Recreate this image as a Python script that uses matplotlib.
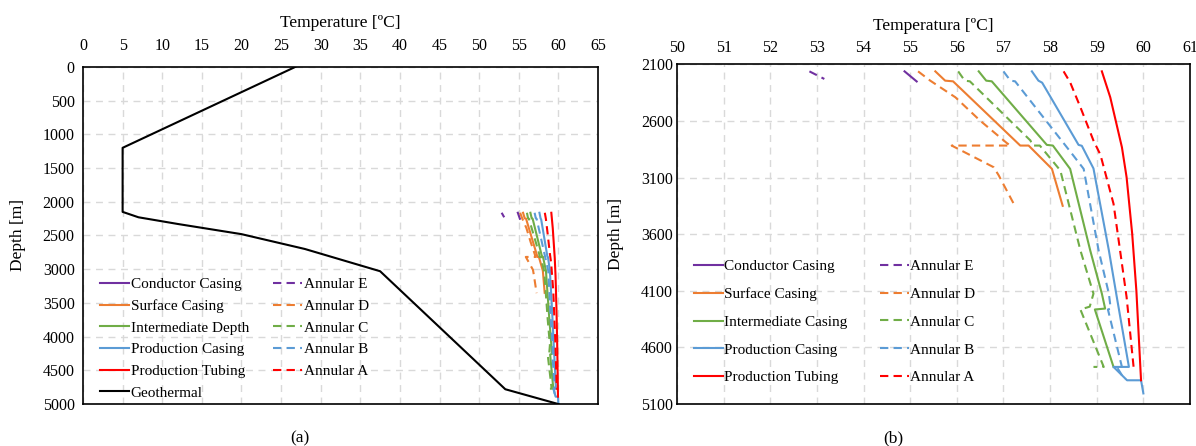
import matplotlib.pyplot as plt

plt.rcParams['font.family'] = ['Liberation Serif', 'DejaVu Serif']

# temperature [C] / depth [m]
cond_t = [54.88, 55.14]
cond_d = [2163, 2252]
ann_e_t = [52.84, 53.16]
ann_e_d = [2163, 2230]

surf_t = [55.54, 55.75, 55.92, 57.36, 57.54, 58.04, 58.27]
surf_d = [2163, 2245, 2251, 2818, 2818, 3024, 3350]
ann_d_t = [55.17, 55.43, 55.97, 56.50, 57.07, 57.15, 55.89, 56.79, 56.90, 57.25]
ann_d_d = [2163, 2245, 2392, 2598, 2795, 2818, 2818, 3009, 3082, 3355]

inter_t = [56.47, 56.63, 56.75, 57.93, 58.06, 58.43, 58.86, 59.11, 59.18, 58.96, 59.36]
inter_d = [2163, 2245, 2251, 2812, 2818, 3024, 3743, 4125, 4257, 4265, 4772]
ann_c_t = [56.03, 56.17, 56.28, 57.58, 57.62, 57.78, 58.22, 58.65, 58.93, 58.85, 58.65, 59.15, 58.93]
ann_c_d = [2163, 2245, 2251, 2774, 2818, 2818, 3038, 3743, 4125, 4240, 4265, 4772, 4772]

prod_t = [57.61, 57.75, 57.83, 57.93, 58.61, 58.68, 58.93, 59.26, 59.43, 59.69, 59.36, 59.65, 59.95, 60.0]
prod_d = [2163, 2245, 2263, 2333, 2812, 2820, 3020, 3743, 4155, 4772, 4772, 4890, 4890, 5006]
ann_b_t = [57.00, 57.15, 57.25, 58.47, 58.72, 59.04, 59.26, 59.30, 59.24, 59.54, 59.43, 59.60]
ann_b_d = [2163, 2245, 2251, 2891, 3024, 3743, 4125, 4257, 4265, 4772, 4772, 4885]

tub_t = [59.11, 59.29, 59.54, 59.64, 59.76, 59.85, 59.95]
tub_d = [2163, 2392, 2833, 3097, 3596, 4100, 4890]
ann_a_t = [58.29, 58.43, 58.65, 58.93, 59.08, 59.36, 59.50, 59.64, 59.79, 59.69]
ann_a_d = [2163, 2260, 2480, 2774, 2900, 3332, 3743, 4155, 4772, 4772]

geo_t = [26.8, 5, 5, 7, 12, 20, 28, 37.5, 53.3, 60]
geo_d = [0, 1200, 2150, 2230, 2330, 2480, 2700, 3030, 4780, 5000]

purple = '#7030A0'
orange = '#ED7D31'
green = '#70AD47'
blue = '#5B9BD5'
red = '#FF0000'
dash = (0, (4, 2.5))

fig = plt.figure(figsize=(11.96, 4.46), dpi=100)
ax1 = fig.add_axes([0.0694, 0.094, 0.4306, 0.756])
ax2 = fig.add_axes([0.566, 0.094, 0.429, 0.762])


def draw(ax, mid_label, geo):
    ax.plot(cond_t, cond_d, color=purple, lw=1.5, label='Conductor Casing')
    ax.plot(surf_t, surf_d, color=orange, lw=1.5, label='Surface Casing')
    ax.plot(inter_t, inter_d, color=green, lw=1.5, label=mid_label)
    ax.plot(prod_t, prod_d, color=blue, lw=1.5, label='Production Casing')
    ax.plot(tub_t, tub_d, color=red, lw=1.5, label='Production Tubing')
    if geo:
        ax.plot(geo_t, geo_d, color='black', lw=1.5, label='Geothermal')
    ax.plot(ann_e_t, ann_e_d, color=purple, lw=1.5, ls=dash, label='Annular E')
    ax.plot(ann_d_t, ann_d_d, color=orange, lw=1.5, ls=dash, label='Annular D')
    ax.plot(ann_c_t, ann_c_d, color=green, lw=1.5, ls=dash, label='Annular C')
    ax.plot(ann_b_t, ann_b_d, color=blue, lw=1.5, ls=dash, label='Annular B')
    ax.plot(ann_a_t, ann_a_d, color=red, lw=1.5, ls=dash, label='Annular A')
    ax.xaxis.tick_top()
    ax.xaxis.set_label_position('top')
    ax.grid(True, color='#D9D9D9', ls=(0, (5, 4)), lw=1)
    ax.set_axisbelow(True)
    ax.tick_params(length=0, labelsize=11.5)
    for s in ax.spines.values():
        s.set_color('black')
        s.set_linewidth(1.2)


draw(ax1, 'Intermediate Depth', True)
ax1.tick_params(axis='x', pad=9)
ax1.tick_params(axis='y', pad=6)
ax1.set_xlim(0, 65)
ax1.set_ylim(5000, 0)
ax1.set_xticks(range(0, 70, 5))
ax1.set_yticks(range(0, 5500, 500))
ax1.set_xlabel('Temperature [ºC]', fontsize=12.5, labelpad=8)
ax1.set_ylabel('Depth [m]', fontsize=12.5, labelpad=12)
ax1.legend(loc='upper left', bbox_to_anchor=(0.033, 0.375), ncol=2, frameon=False,
           fontsize=11, handlelength=1.9, handletextpad=0.1, labelspacing=0.52,
           columnspacing=1.6, borderpad=0, borderaxespad=0)

draw(ax2, 'Intermediate Casing', False)
ax2.tick_params(axis='x', pad=6)
ax2.tick_params(axis='y', pad=3)
ax2.set_xlim(50, 61)
ax2.set_ylim(5100, 2100)
ax2.set_xticks(range(50, 62))
ax2.set_yticks(range(2100, 5600, 500))
ax2.set_xlabel('Temperatura [ºC]', fontsize=12.5, labelpad=7)
ax2.set_ylabel('Depth [m]', fontsize=12.5, labelpad=12)
ax2.legend(loc='upper left', bbox_to_anchor=(0.033, 0.425), ncol=2, frameon=False,
           fontsize=11, handlelength=1.9, handletextpad=0.1, labelspacing=0.92,
           columnspacing=2.1, borderpad=0, borderaxespad=0)

fig.text(0.251, 0.008, '(a)', ha='center', fontsize=12.5)
fig.text(0.747, 0.008, '(b)', ha='center', fontsize=12.5)

fig.savefig('out.png', dpi=100)
